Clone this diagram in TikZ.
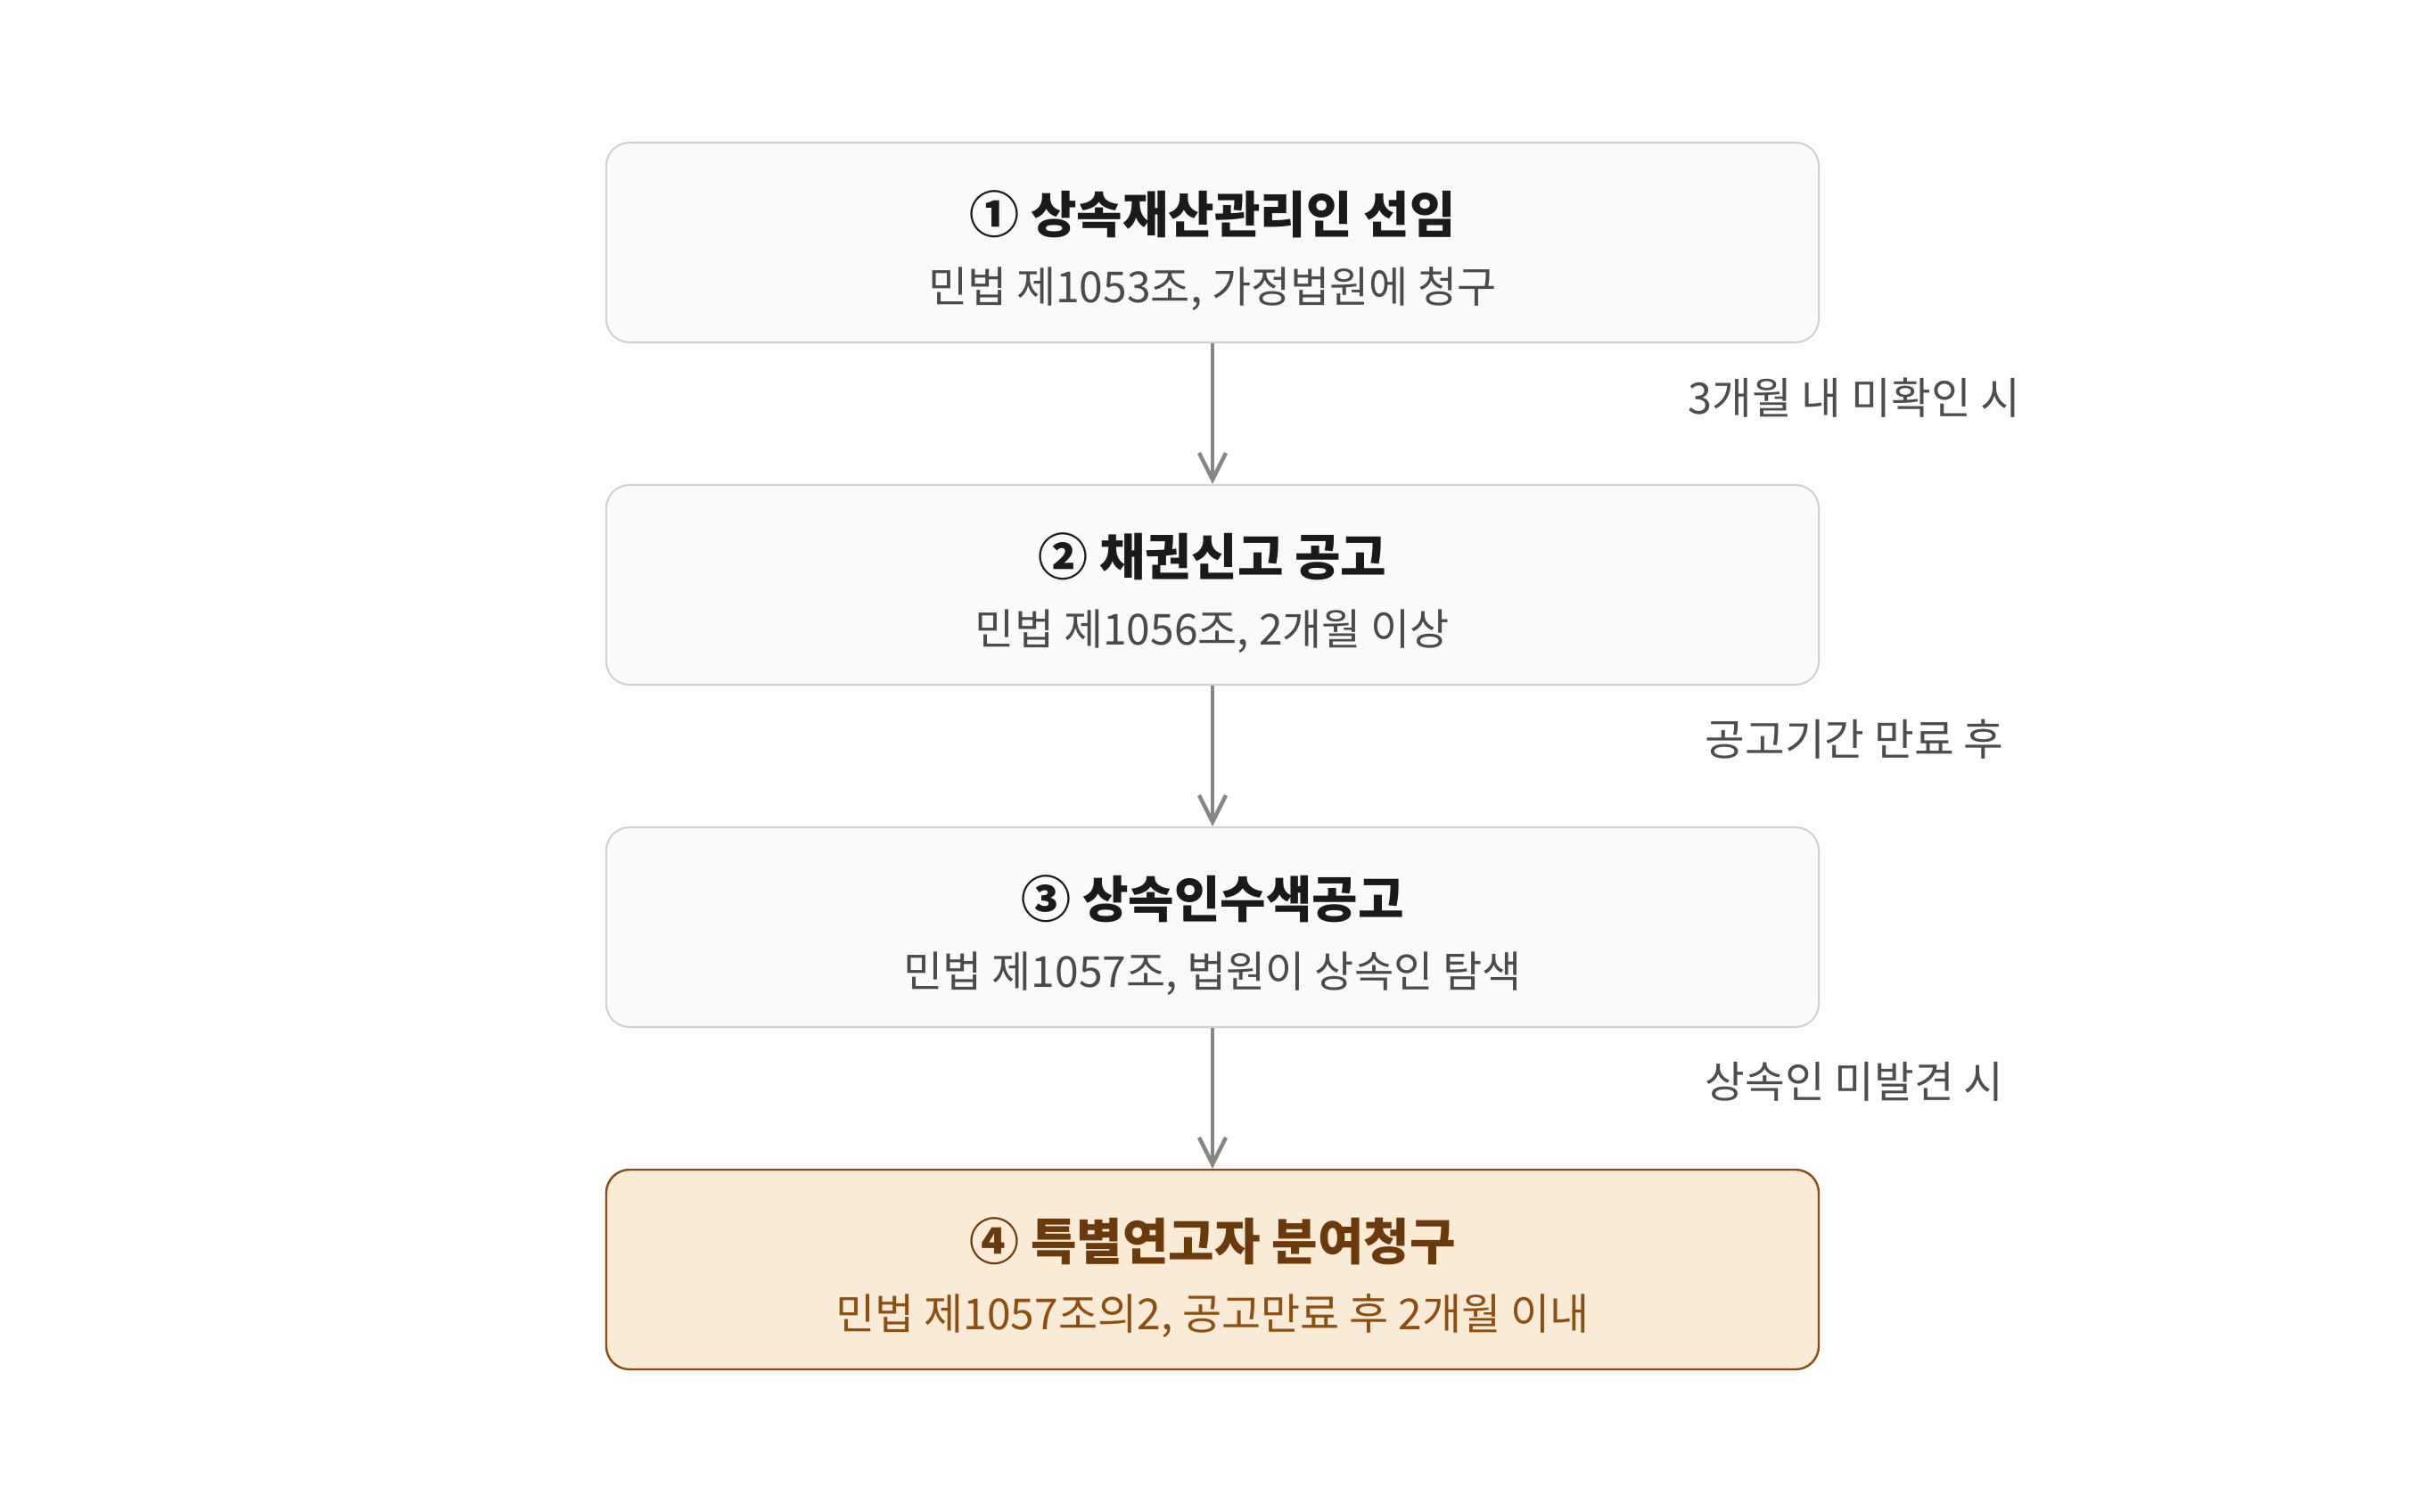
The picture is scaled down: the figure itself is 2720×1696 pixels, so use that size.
\documentclass[tikz,border=0pt]{standalone}
\usepackage{fontspec}
\setmainfont{Noto Sans CJK KR}
\usetikzlibrary{arrows.meta}
\definecolor{boxfill}{HTML}{FAFAF8}
\definecolor{boxline}{HTML}{CFCFCF}
\definecolor{titlec}{HTML}{1A1A1A}
\definecolor{subc}{HTML}{4A4A4A}
\definecolor{arrowc}{HTML}{878782}
\definecolor{labelc}{HTML}{4D4D4D}
\definecolor{hlfill}{HTML}{FAEBD7}
\definecolor{hlline}{HTML}{8B4C10}
\definecolor{hltitle}{HTML}{6B3A0C}
\definecolor{hlsub}{HTML}{8B4F12}
\tikzset{
  stepbox/.style={draw=boxline, fill=boxfill, line width=1pt, rounded corners=13pt,
    minimum width=680pt, minimum height=112pt, inner sep=0pt},
  hlbox/.style={stepbox, draw=hlline, fill=hlfill, line width=1.2pt},
  titletext/.style={text=titlec, font=\fontsize{28}{32}\selectfont\bfseries, inner sep=0pt},
  subtext/.style={text=subc, font=\fontsize{24}{28}\selectfont, inner sep=0pt},
  hltitletext/.style={titletext, text=hltitle},
  hlsubtext/.style={subtext, text=hlsub},
  edgelabel/.style={text=labelc, font=\fontsize{24.3}{28}\selectfont, inner sep=0pt},
  flow/.style={draw=arrowc, line width=2.2pt, -{Straight Barb[length=15pt,width=15pt,line width=2.2pt]}, shorten >=0pt}
}
\begin{document}
\begin{tikzpicture}[x=0.5pt,y=-0.5pt]
\useasboundingbox[fill=white] (0,0) rectangle (2720,1696);

\node[stepbox] (b1) at (1360,272) {};
\node[stepbox] (b2) at (1360,656) {};
\node[stepbox] (b3) at (1360,1040) {};
\node[hlbox]   (b4) at (1360,1424) {};

\node[titletext] (t1) at ([yshift=16pt]b1.center) {① 상속재산관리인 선임};
\node[subtext]   (s1) at ([yshift=-26pt]b1.center) {민법 제1053조, 가정법원에 청구};
\node[titletext] (t2) at ([yshift=16pt]b2.center) {② 채권신고 공고};
\node[subtext]   (s2) at ([yshift=-26pt]b2.center) {민법 제1056조, 2개월 이상};
\node[titletext] (t3) at ([yshift=16pt]b3.center) {③ 상속인수색공고};
\node[subtext]   (s3) at ([yshift=-26pt]b3.center) {민법 제1057조, 법원이 상속인 탐색};
\node[hltitletext] (t4) at ([yshift=16pt]b4.center) {④ 특별연고자 분여청구};
\node[hlsubtext]   (s4) at ([yshift=-26pt]b4.center) {민법 제1057조의2, 공고만료 후 2개월 이내};

\draw[flow] (b1.south) -- (b2.north);
\draw[flow] (b2.south) -- (b3.north);
\draw[flow] (b3.south) -- (b4.north);

\node[edgelabel] (l1) at (2080,446) {3개월 내 미확인 시};
\node[edgelabel] (l2) at (2080,829) {공고기간 만료 후};
\node[edgelabel] (l3) at (2080,1213) {상속인 미발견 시};
\end{tikzpicture}
\end{document}
